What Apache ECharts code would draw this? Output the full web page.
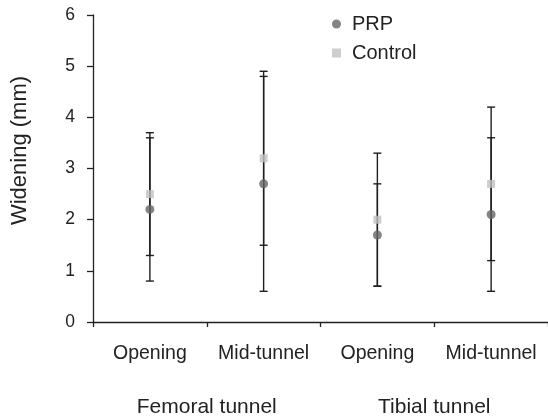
<!DOCTYPE html>
<html>
<head>
<meta charset="utf-8">
<script src="https://cdn.jsdelivr.net/npm/echarts@6/dist/echarts.min.js"></script>
<style>
html,body{margin:0;padding:0;background:#fff;}
#chart{width:548px;height:419px;}
</style>
</head>
<body>
<div id="chart"></div>
<script>
var categories = ['Opening', 'Mid-tunnel', 'Opening', 'Mid-tunnel'];
var groups = ['Femoral tunnel', 'Tibial tunnel'];
var yTicks = [0, 1, 2, 3, 4, 5, 6];

var prpMean = [2.2, 2.7, 1.7, 2.1];
var prpLow = [0.8, 0.6, 0.7, 0.6];
var prpHigh = [3.6, 4.8, 2.7, 3.6];

var ctrlMean = [2.5, 3.2, 2.0, 2.7];
var ctrlLow = [1.3, 1.5, 0.7, 1.2];
var ctrlHigh = [3.7, 4.9, 3.3, 4.2];

var FONT = 'Liberation Sans';
var TXT = '#222';

function errData(low, high) {
  return low.map(function (l, i) { return [i, l, high[i]]; });
}

function renderErr(params, api) {
  var x = api.value(0);
  var lo = api.coord([x, api.value(1)]);
  var hi = api.coord([x, api.value(2)]);
  var cap = 4;
  var style = { stroke: '#1e1e1e', lineWidth: 1.4, fill: null };
  return {
    type: 'group',
    children: [
      { type: 'line', shape: { x1: lo[0], y1: lo[1], x2: hi[0], y2: hi[1] }, style: style },
      { type: 'line', shape: { x1: lo[0] - cap, y1: lo[1], x2: lo[0] + cap, y2: lo[1] }, style: style },
      { type: 'line', shape: { x1: hi[0] - cap, y1: hi[1], x2: hi[0] + cap, y2: hi[1] }, style: style }
    ]
  };
}

var chart = echarts.init(document.getElementById('chart'), null, { renderer: 'canvas' });
chart.setOption({
  animation: false,
  backgroundColor: '#fff',
  textStyle: { fontFamily: FONT },
  grid: { left: 93, right: -2, top: 15, bottom: 97, containLabel: false },
  legend: {
    orient: 'vertical',
    left: 327,
    top: 9,
    itemGap: 9,
    itemWidth: 9,
    itemHeight: 9,
    data: ['PRP', 'Control'],
    textStyle: { fontFamily: FONT, fontSize: 20, color: TXT, padding: [0, 0, 0, 6] }
  },
  xAxis: [
    {
      type: 'category',
      data: categories,
      boundaryGap: true,
      axisLine: { lineStyle: { color: '#222', width: 1.3 } },
      axisTick: { show: true, alignWithLabel: false, length: 5, lineStyle: { color: '#222', width: 1.3 } },
      axisLabel: { fontFamily: FONT, fontSize: 19.5, color: TXT, margin: 22, interval: 0 },
      splitLine: { show: false }
    },
    {
      type: 'category',
      data: groups,
      position: 'bottom',
      offset: 0,
      axisLine: { show: false },
      axisTick: { show: false },
      axisLabel: { fontFamily: FONT, fontSize: 21, color: TXT, margin: 75, interval: 0 },
      splitLine: { show: false }
    }
  ],
  yAxis: {
    type: 'value',
    min: yTicks[0],
    max: yTicks[yTicks.length - 1],
    interval: 1,
    name: 'Widening (mm)',
    nameLocation: 'middle',
    nameGap: 62,
    nameTextStyle: { fontFamily: FONT, fontSize: 22, color: TXT, padding: [0, 0, 0, 36] },
    axisLine: { show: true, lineStyle: { color: '#222', width: 1.3 } },
    axisTick: { show: true, length: 6, lineStyle: { color: '#222', width: 1.3 } },
    axisLabel: { fontFamily: FONT, fontSize: 17.5, color: TXT, margin: 18 },
    splitLine: { show: false }
  },
  series: [
    {
      name: 'prpErr',
      type: 'custom',
      xAxisIndex: 0,
      renderItem: renderErr,
      data: errData(prpLow, prpHigh),
      z: 2,
      silent: true
    },
    {
      name: 'ctrlErr',
      type: 'custom',
      xAxisIndex: 0,
      renderItem: renderErr,
      data: errData(ctrlLow, ctrlHigh),
      z: 2,
      silent: true
    },
    {
      name: 'PRP',
      type: 'scatter',
      xAxisIndex: 0,
      symbol: 'circle',
      symbolSize: 9,
      itemStyle: { color: '#676767' },
      data: prpMean,
      z: 5
    },
    {
      name: 'Control',
      type: 'scatter',
      xAxisIndex: 0,
      symbol: 'rect',
      symbolSize: 8,
      itemStyle: { color: '#c0c0c0' },
      data: ctrlMean,
      z: 5
    }
  ]
});
</script>
</body>
</html>
